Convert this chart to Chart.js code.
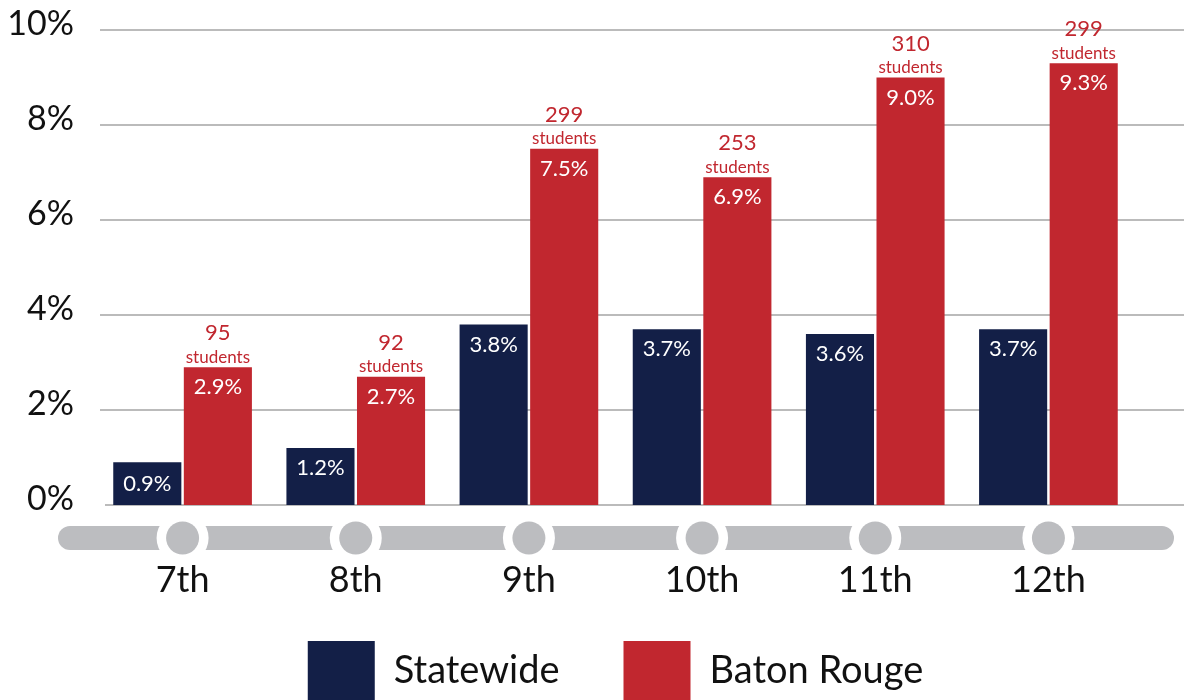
<!DOCTYPE html>
<html>
<head>
<meta charset="utf-8">
<style>
    body {
        margin: 0;
        padding: 0;
        background: #ffffff;
        overflow: hidden;
    }
    .chart_box {
        width: 1184px;
        height: 710px;
    }
</style>
<script src="https://cdn.jsdelivr.net/npm/chart.js"></script>
</head>
<body>
    <div class="chart_box">
        <canvas id="myChart" width="1184" height="710"></canvas>
    </div>
<script>
    // Data
    const grades = ['7th', '8th', '9th', '10th', '11th', '12th'];
    const statewide = [0.9, 1.2, 3.8, 3.7, 3.6, 3.7];
    const batonRouge = [2.9, 2.7, 7.5, 6.9, 9.0, 9.3];
    const studentCounts = [95, 92, 299, 253, 310, 299];
    const yTicks = [0, 2, 4, 6, 8, 10];

    const NAVY = '#131f47';
    const RED = '#c1272f';
    const GRAY = '#bcbdc0';
    const FONT = 'Lato, "Open Sans", sans-serif';

    // grid lines run past the bars to the edge, plus the grey timeline under the axis
    const backdropPlugin = {
        id: 'backdrop',
        beforeDatasetsDraw(chart) {
            const ctx = chart.ctx;
            const y = chart.scales.y;
            const x = chart.scales.x;
            const area = chart.chartArea;
            ctx.save();
            ctx.strokeStyle = '#a4a4a4';
            ctx.lineWidth = 1.5;
            yTicks.forEach(v => {
                const py = y.getPixelForValue(v);
                ctx.beginPath();
                ctx.moveTo(v === 0 ? 105 : 100, py);
                ctx.lineTo(chart.width, py);
                ctx.stroke();
            });

            // timeline with a dot under each grade
            const cy = area.bottom + 33;
            const h = 24;
            ctx.fillStyle = GRAY;
            ctx.beginPath();
            ctx.roundRect(58, cy - h / 2, 1174 - 58, h, h / 2);
            ctx.fill();
            grades.forEach((g, i) => {
                const px = x.getPixelForValue(i);
                ctx.fillStyle = '#ffffff';
                ctx.beginPath();
                ctx.arc(px, cy, 26, 0, Math.PI * 2);
                ctx.fill();
                ctx.fillStyle = GRAY;
                ctx.beginPath();
                ctx.arc(px, cy, 16.5, 0, Math.PI * 2);
                ctx.fill();
            });

            // grade names below the timeline
            ctx.fillStyle = '#111111';
            ctx.font = '36px ' + FONT;
            ctx.textAlign = 'center';
            ctx.textBaseline = 'middle';
            grades.forEach((g, i) => {
                ctx.fillText(g, x.getPixelForValue(i), area.bottom + 75);
            });
            ctx.restore();
        }
    };

    // value labels inside bars, student counts above the red bars
    const labelPlugin = {
        id: 'barLabels',
        afterDatasetsDraw(chart) {
            const ctx = chart.ctx;
            ctx.save();
            ctx.textAlign = 'center';
            ctx.textBaseline = 'middle';
            chart.data.datasets.forEach((ds, i) => {
                const meta = chart.getDatasetMeta(i);
                meta.data.forEach((bar, j) => {
                    ctx.fillStyle = '#ffffff';
                    ctx.font = '22px ' + FONT;
                    const barH = bar.base - bar.y;
                    const off = barH < 45 ? barH / 2 : 20;
                    ctx.fillText(ds.data[j].toFixed(1) + '%', bar.x, bar.y + off);
                    if (i === 1) {
                        ctx.fillStyle = RED;
                        ctx.font = '17px ' + FONT;
                        ctx.fillText('students', bar.x, bar.y - 10);
                        ctx.font = '22px ' + FONT;
                        ctx.fillText(String(studentCounts[j]), bar.x, bar.y - 34);
                    }
                });
            });
            ctx.restore();
        }
    };

    const data = {
        labels: grades,
        datasets: [
            {
                label: 'Statewide',
                data: statewide,
                backgroundColor: NAVY,
                borderWidth: 0,
                barPercentage: 0.965,
                categoryPercentage: 0.815
            },
            {
                label: 'Baton Rouge',
                data: batonRouge,
                backgroundColor: RED,
                borderWidth: 0,
                barPercentage: 0.965,
                categoryPercentage: 0.815
            }
        ]
    };

    const config = {
        type: 'bar',
        data: data,
        options: {
            responsive: false,
            animation: false,
            layout: {
                padding: { top: 30, left: 0, right: 0, bottom: 0 }
            },
            plugins: {
                tooltip: { enabled: false },
                legend: {
                    position: 'bottom',
                    fullSize: false,
                    labels: {
                        boxWidth: 67,
                        boxHeight: 59,
                        padding: 64,
                        color: '#111111',
                        font: { family: FONT, size: 38 }
                    }
                }
            },
            scales: {
                x: {
                    grid: { display: false, drawTicks: false },
                    border: { display: false },
                    ticks: { display: false },
                    afterFit(scale) { scale.height = 72; }
                },
                y: {
                    min: 0,
                    max: 10,
                    grid: { display: false, drawTicks: false },
                    border: { display: false },
                    ticks: {
                        stepSize: 2,
                        padding: 22,
                        labelOffset: -6,
                        color: '#111111',
                        font: { family: FONT, size: 34 },
                        callback: v => v + '%'
                    },
                    afterFit(scale) {
                        scale.width = 96;
                        scale.paddingTop = 0;
                        scale.paddingBottom = 0;
                    }
                },
                spacer: {
                    position: 'right',
                    grid: { display: false, drawTicks: false },
                    border: { display: false },
                    ticks: { display: false },
                    afterFit(scale) { scale.width = 49; }
                }
            }
        },
        plugins: [backdropPlugin, labelPlugin]
    };

    const myChart = new Chart(document.getElementById('myChart'), config);
</script>
</body>
</html>
